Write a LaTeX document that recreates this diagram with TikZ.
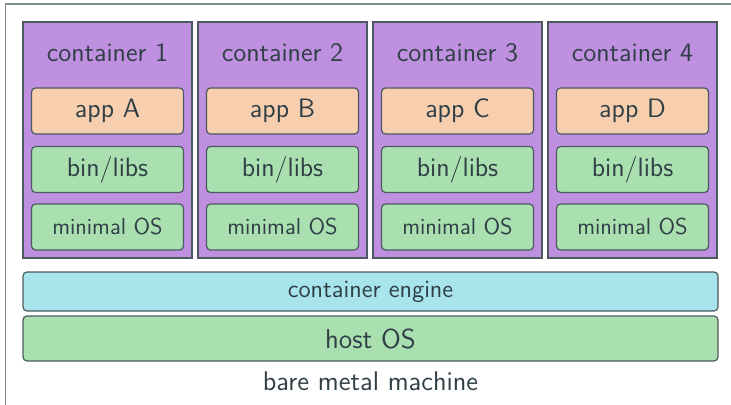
\documentclass[tikz,border=0pt]{standalone}
\usepackage{fontspec}
\definecolor{cpurple}{HTML}{BF8FE0}
\definecolor{corange}{HTML}{F8CFAE}
\definecolor{cgreen}{HTML}{AADFB0}
\definecolor{ccyan}{HTML}{A8E4EC}
\definecolor{ctext}{HTML}{2F3F45}
\definecolor{cline}{HTML}{4A5A5F}
\definecolor{cframe}{HTML}{7E8C90}
\tikzset{
  cont/.style={draw=cline, line width=0.6pt, fill=cpurple, minimum width=84.5pt, minimum height=118pt, inner sep=0pt},
  inbox/.style={draw=cline, line width=0.6pt, rounded corners=2pt, minimum width=76pt, minimum height=23pt, inner sep=0pt, text=ctext, font=\sffamily\fontsize{13.3}{15}\selectfont},
  appbox/.style={inbox, fill=corange},
  libbox/.style={inbox, fill=cgreen},
  osbox/.style={inbox, fill=cgreen, font=\sffamily\fontsize{11.5}{13}\selectfont},
  lbl/.style={text=ctext, inner sep=0pt, font=\sffamily\fontsize{13.3}{15}\selectfont},
  wide/.style={draw=cline, line width=0.6pt, rounded corners=2pt, minimum width=347.5pt, inner sep=0pt, text=ctext},
}
\begin{document}
\begin{tikzpicture}[x=0.5pt,y=-0.5pt]
\useasboundingbox (0,0) rectangle (731,405);
\draw[cframe, line width=0.7pt] (5.5,406) -- (5.5,4) -- (732,4);
\foreach \i/\x/\a in {1/107.5/A,2/282.5/B,3/457.5/C,4/632.5/D}{
  \node[cont] (c\i) at (\x,140) {};
  \node[lbl] (c\i t) at (\x,53) {container \i};
  \node[appbox] (app\i) at (\x,111) {app \a};
  \node[libbox] (lib\i) at (\x,169.5) {bin/libs};
  \node[osbox] (os\i) at (\x,227) {minimal OS};
}
\node[wide, fill=ccyan, minimum height=19.5pt, font=\sffamily\fontsize{12.4}{14}\selectfont] (engine) at (370.5,291.5) {container engine};
\node[wide, fill=cgreen, minimum height=22.5pt, font=\sffamily\fontsize{13.7}{16}\selectfont] (host) at (370.5,338.5) {host OS};
\node[lbl, font=\sffamily\fontsize{13.5}{15}\selectfont] (bare) at (370.5,381) {bare metal machine};
\end{tikzpicture}
\end{document}
